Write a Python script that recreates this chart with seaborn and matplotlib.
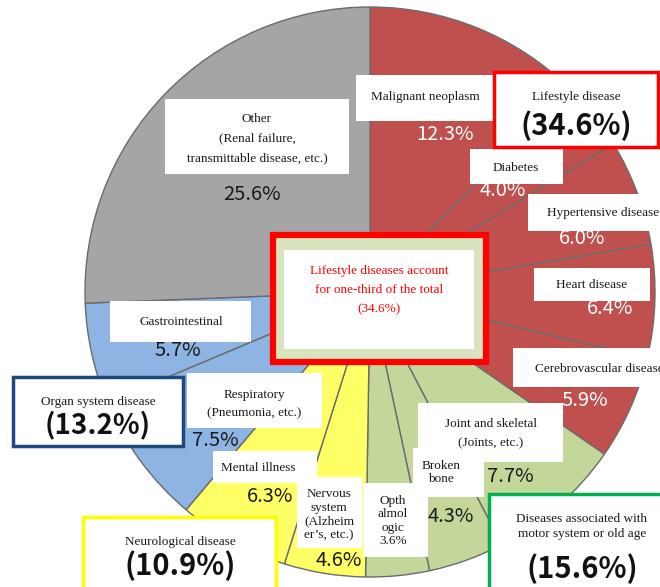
import matplotlib
matplotlib.use("Agg")
import matplotlib.pyplot as plt
from matplotlib.patches import Rectangle
import seaborn as sns

# ---- data -------------------------------------------------------------
categories = [
    "Malignant neoplasm", "Diabetes", "Hypertensive disease", "Heart disease",
    "Cerebrovascular disease", "Joint and skeletal", "Broken bone",
    "Ophthalmologic", "Nervous system", "Mental illness", "Respiratory",
    "Gastrointestinal", "Other",
]
shares = [12.3, 4.0, 6.0, 6.4, 5.9, 7.7, 4.3, 3.6, 4.6, 6.3, 7.5, 5.7, 25.6]
groups = (["lifestyle"] * 5 + ["motor"] * 3 + ["neuro"] * 2
          + ["organ"] * 2 + ["other"])
group_names = {
    "lifestyle": "Lifestyle disease",
    "motor": "Diseases associated with\nmotor system or old age",
    "neuro": "Neurological disease",
    "organ": "Organ system disease",
}

sns.set_theme(style="white")
group_colors = dict(zip(
    ["lifestyle", "motor", "neuro", "organ", "other"],
    sns.color_palette(["#C0504D", "#C4D79B", "#FFFF66", "#8DB4E2", "#A5A5A5"]),
))
border_colors = {"lifestyle": "#FF0000", "motor": "#00B050",
                 "neuro": "#FFFF00", "organ": "#1F497D"}

SERIF = ["Liberation Serif", "DejaVu Serif"]
SANS = ["Noto Sans CJK JP", "DejaVu Sans"]

W, H = 660, 587
fig = plt.figure(figsize=(W / 100, H / 100), dpi=100)
ax = fig.add_axes([0, 0, 1, 1])

# ---- pie (pixel-style coordinates, y grows downward) -------------------
ax.pie(
    shares,
    colors=[group_colors[g] for g in groups],
    startangle=270, counterclock=True,
    center=(370, 292), radius=285,
    wedgeprops=dict(edgecolor="#6b6b6b", linewidth=1.0),
)
ax.set_xlim(0, W)
ax.set_ylim(H, 0)
ax.set_aspect("equal")
ax.axis("off")

val = dict(zip(categories, shares))
def total(g):
    return sum(s for s, gg in zip(shares, groups) if gg == g)

def pct(v):
    return f"{v:.1f}%"

def box(x0, y0, x1, y1, face="white", edge="none", lw=0.0, z=5):
    ax.add_patch(Rectangle((x0, y0), x1 - x0, y1 - y0, facecolor=face,
                           edgecolor=edge, linewidth=lw, zorder=z,
                           clip_on=False))

def label(x, y, s, size=9.5, color="#1a1a1a", ha="center", z=6):
    ax.text(x, y, s, fontsize=size, family=SERIF, color=color, ha=ha,
            va="center", zorder=z)

def value(x, y, s, color="#1a1a1a", size=14.5, weight="normal", z=4):
    ax.text(x, y + 2, s, fontsize=size, family=SANS, color=color,
            ha="center", va="center", weight=weight, zorder=z)

WHITE = "#FFFFFF"
BIG = 21

# lifestyle slices
box(356, 75, 495, 121)
label(425, 97, "Malignant neoplasm")
value(445, 133, pct(val["Malignant neoplasm"]), WHITE)

box(470, 149, 563, 184)
label(516, 168, "Diabetes")
value(503, 189, pct(val["Diabetes"]), WHITE)

box(528, 194, 680, 231)
label(547, 213, "Hypertensive disease", ha="left")
value(582, 236, pct(val["Hypertensive disease"]), WHITE)

box(534, 268, 650, 301)
label(592, 285, "Heart disease")
value(610, 307, pct(val["Heart disease"]), WHITE)

box(513, 348, 680, 387)
label(535, 369, "Cerebrovascular disease", ha="left")
value(585, 398, pct(val["Cerebrovascular disease"]), WHITE)

# group summary: lifestyle
box(494, 72, 658, 147, edge=border_colors["lifestyle"], lw=2.5)
label(576, 97, group_names["lifestyle"])
value(576, 124, f"({pct(total('lifestyle'))})", "#111111", size=BIG,
      weight="bold", z=7)

# central message
box(273, 235, 486, 362, face="#D7E4BD", edge="#FF0000", lw=4.5)
box(284, 250, 474, 349)
label(379, 271, "Lifestyle diseases account", color="#FF0000")
label(379, 290, "for one-third of the total", color="#FF0000")
label(379, 309, f"({pct(total('lifestyle'))})", color="#FF0000")

# motor system slices
box(418, 403, 563, 462)
label(491, 424, "Joint and skeletal")
label(491, 443, "(Joints, etc.)")
value(510, 474, pct(val["Joint and skeletal"]))

box(413, 448, 484, 497)
label(441, 466, "Broken")
label(441, 479, "bone")
value(451, 514, pct(val["Broken bone"]))

box(363, 483, 428, 557)
for yy, s in zip([501, 514, 528, 541],
                 ["Opth", "almol", "ogic", pct(val["Ophthalmologic"])]):
    label(393, yy, s)

box(489, 494, 680, 600, edge=border_colors["motor"], lw=2.5)
label(582, 519, "Diseases associated with")
label(582, 534, "motor system or old age")
value(582, 567, f"({pct(total('motor'))})", "#111111", size=BIG,
      weight="bold", z=7)

# neurological slices
box(297, 477, 362, 548)
for yy, s in zip([494, 508, 521, 535],
                 ["Nervous", "system", "(Alzheim", "er\u2019s, etc.)"]):
    label(329, yy, s)
value(339, 559, pct(val["Nervous system"]))

box(213, 451, 317, 483)
label(258, 468, "Mental illness")
value(270, 495, pct(val["Mental illness"]))

box(83, 517, 276, 600, edge=border_colors["neuro"], lw=2.5)
label(180, 542, group_names["neuro"])
value(180, 564, f"({pct(total('neuro'))})", "#111111", size=BIG,
      weight="bold", z=7)

# organ system slices
box(187, 373, 322, 428)
label(254, 395, "Respiratory")
label(254, 413, "(Pneumonia, etc.)")
value(215, 438, pct(val["Respiratory"]))

box(110, 301, 251, 342)
label(181, 322, "Gastrointestinal")
value(178, 349, pct(val["Gastrointestinal"]))

box(13, 377, 183, 446, edge=border_colors["organ"], lw=2.5)
label(98, 402, group_names["organ"])
value(98, 423, f"({pct(total('organ'))})", "#111111", size=20,
      weight="bold", z=7)

# other
box(165, 99, 349, 174)
label(257, 119, "Other")
label(257, 138, "(Renal failure,")
label(257, 158, "transmittable disease, etc.)")
value(252, 192, pct(val["Other"]))

fig.savefig("out.png", dpi=100)
